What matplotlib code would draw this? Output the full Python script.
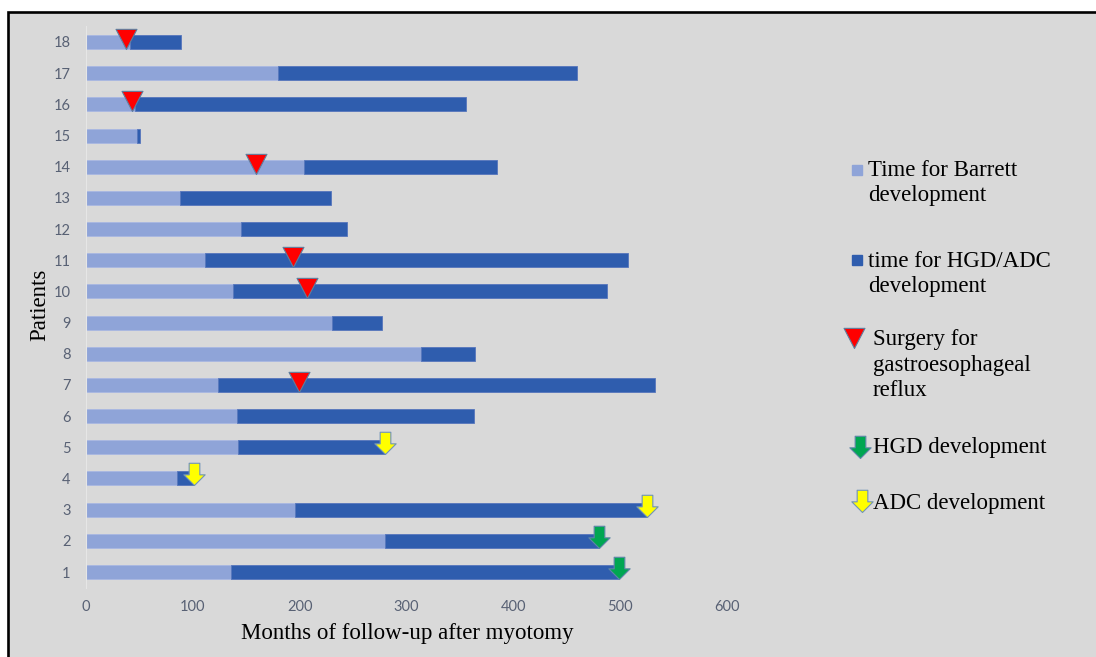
import numpy as np
import matplotlib
matplotlib.use("Agg")
import matplotlib.pyplot as plt
from matplotlib.path import Path
from matplotlib.patches import Rectangle

# Data (months of follow-up after myotomy)
patients = list(range(1, 19))
barrett_time = [136, 280, 196, 85, 142, 141, 124, 314, 230, 138, 111, 145, 88, 204, 48, 46, 180, 41]
hgd_adc_time = [363, 200, 329, 16, 138, 222, 409, 50, 47, 350, 396, 99, 141, 181, 3, 310, 280, 48]

surgery_patients = [7, 10, 11, 14, 16, 18]
surgery_month = [199, 207, 194, 159, 43, 37]

hgd_patients = [1, 2]
hgd_month = [499, 480]

adc_patients = [3, 4, 5]
adc_month = [525, 101, 280]

x_ticks = [0, 100, 200, 300, 400, 500, 600]

LIGHT = "#8FA4D8"
DARK = "#2F5DAE"
BG = "#D9D9D9"
TICK_COLOR = "#586174"
BAR_H = 0.45

# custom markers, tip at the origin so they sit on the bar's bottom edge
tri_path = Path([(0, 0), (-0.52, 1), (0.52, 1), (0, 0)], closed=True)
arrow_path = Path([(0, 0), (-0.48, 0.48), (-0.24, 0.48), (-0.24, 1),
                   (0.24, 1), (0.24, 0.48), (0.48, 0.48), (0, 0)], closed=True)

W, H = 1096, 657
fig = plt.figure(figsize=(W / 100, H / 100), dpi=100)
fig.patch.set_facecolor("white")

# background panel with black frame, in pixel coords
bg = fig.add_axes([0, 0, 1, 1], zorder=0)
bg.set_xlim(0, W)
bg.set_ylim(H, 0)
bg.axis("off")
bg.add_patch(Rectangle((8, 11.5), W + 20, H + 20, facecolor=BG,
                       edgecolor="black", linewidth=1.9))

ax = fig.add_axes([86 / W, (H - 587.6) / H, 641 / W, 561.2 / H], zorder=1)
ax.patch.set_alpha(0)

ax.barh(patients, barrett_time, height=BAR_H, color=LIGHT,
        edgecolor="#A9B8E2", linewidth=0.6)
ax.barh(patients, hgd_adc_time, left=barrett_time, height=BAR_H, color=DARK,
        edgecolor="#5676BC", linewidth=0.6)

ax.plot(surgery_month, np.array(surgery_patients) - BAR_H / 2, linestyle="none",
        marker=tri_path, markersize=29, markerfacecolor="#FF0000",
        markeredgecolor="#5E7E9E", markeredgewidth=0.8, zorder=5)
ax.plot(hgd_month, np.array(hgd_patients) - BAR_H / 2, linestyle="none",
        marker=arrow_path, markersize=32, markerfacecolor="#00A651",
        markeredgecolor="#5E86A8", markeredgewidth=0.8, zorder=5)
ax.plot(adc_month, np.array(adc_patients) - BAR_H / 2, linestyle="none",
        marker=arrow_path, markersize=32, markerfacecolor="#FFFF00",
        markeredgecolor="#6F93B8", markeredgewidth=0.8, zorder=5)

ax.set_xlim(0, 600)
ax.set_ylim(0.5, 18.5)
ax.set_xticks(x_ticks)
ax.set_yticks(patients)
for s in ["top", "right", "bottom"]:
    ax.spines[s].set_visible(False)
ax.spines["left"].set_color("#E6E6E6")
ax.spines["left"].set_linewidth(0.8)
ax.tick_params(axis="x", length=0, pad=9, labelcolor=TICK_COLOR, labelsize=10.5)
ax.tick_params(axis="y", length=0, pad=11, labelcolor=TICK_COLOR, labelsize=10.5)
for lab in ax.get_xticklabels() + ax.get_yticklabels():
    lab.set_fontfamily("Lato")

serif = "Liberation Serif"
fig.text(407 / W, 1 - 634 / H, "Months of follow-up after myotomy",
         ha="center", va="center", fontsize=16.5, family=serif)
fig.text(40 / W, 1 - 305 / H, "Patients", rotation=90,
         ha="center", va="center", fontsize=16.5, family=serif)

# legend, drawn by hand to copy the Excel layout
bg.plot([857], [170], marker="s", markersize=7.5, color=LIGHT, linestyle="none")
bg.plot([857], [260], marker="s", markersize=7.5, color=DARK, linestyle="none")
bg.plot([853.5], [348], marker=tri_path, markersize=29, markerfacecolor="#FF0000",
        markeredgecolor="#5E7E9E", markeredgewidth=0.8, linestyle="none")
bg.plot([860], [458], marker=arrow_path, markersize=32, markerfacecolor="#00A651",
        markeredgecolor="#5E86A8", markeredgewidth=0.8, linestyle="none")
bg.plot([862], [512], marker=arrow_path, markersize=32, markerfacecolor="#FFFF00",
        markeredgecolor="#6F93B8", markeredgewidth=0.8, linestyle="none")

leg_kw = dict(fontsize=16.5, family=serif, linespacing=1.3, va="center", ha="left")
bg.text(868, 183, "Time for Barrett\ndevelopment", **leg_kw)
bg.text(868, 274, "time for HGD/ADC\ndevelopment", **leg_kw)
bg.text(873, 365, "Surgery for\ngastroesophageal\nreflux", **leg_kw)
bg.text(873, 448, "HGD development", **leg_kw)
bg.text(873, 503, "ADC development", **leg_kw)

fig.savefig("out.png", dpi=100)
